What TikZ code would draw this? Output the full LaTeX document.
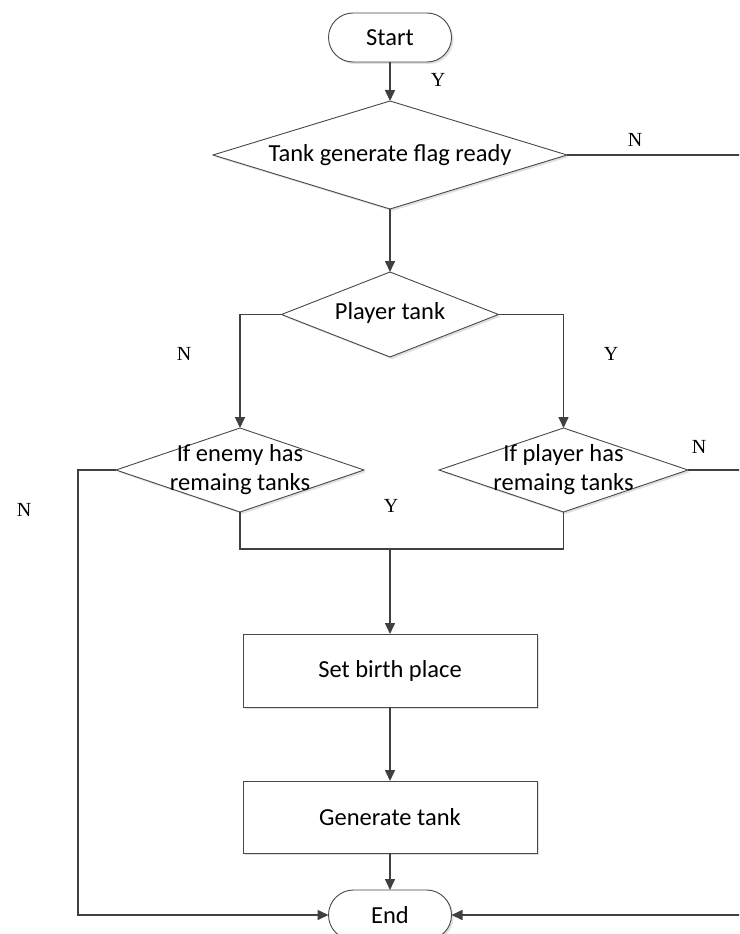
\documentclass[tikz,border=0pt]{standalone}
\usepackage{fontspec}
\setmainfont{Carlito}
\newfontfamily\labelfont{Liberation Serif}
\usetikzlibrary{shapes.geometric,shapes.misc,arrows.meta,shadows}

\begin{document}
\begin{tikzpicture}[x=1pt,y=-1pt,
  every node/.style={inner sep=0pt, outer sep=0pt},
  shapeline/.style={draw=black!72, line width=0.9pt, fill=white},
  softshadow/.style={drop shadow={shadow xshift=2pt, shadow yshift=-2pt, fill=black, opacity=0.12}},
  mainfont/.style={font=\fontsize{24.5}{29}\selectfont},
  termnode/.style={rounded rectangle, shapeline, softshadow, mainfont,
                   minimum width=123pt, minimum height=49pt},
  procnode/.style={rectangle, shapeline, softshadow, mainfont,
                   minimum width=294pt, minimum height=73pt},
  decnode/.style={diamond, shapeline, softshadow},
  dectext/.style={mainfont, align=center},
  flow/.style={draw=black!75, line width=1.6pt, -{Triangle[length=11pt,width=10pt]}},
  wire/.style={draw=black!75, line width=1.6pt},
  yn/.style={font=\labelfont\fontsize{20}{22}\selectfont}
]
\useasboundingbox (0,0) rectangle (739,934);
\clip (0,0) rectangle (739,934);

% terminals, decisions and process boxes
\node[termnode] (start) at (390,37.5) {Start};

\node[decnode, minimum width=354pt, minimum height=108pt] (flag) at (390,155) {};
\node[dectext] (flagtext) at (390,155) {Tank generate flag ready};

\node[decnode, minimum width=217pt, minimum height=85pt] (player) at (390,314.5) {};
\node[dectext] (playertext) at (390,313) {Player tank};

\node[decnode, minimum width=248pt, minimum height=84pt] (enemyleft) at (240,470) {};
\node[dectext] (enemytext) at (240,470) {If enemy has\\remaing tanks};

\node[decnode, minimum width=249pt, minimum height=84pt] (playerleft) at (563.5,470) {};
\node[dectext] (playerlefttext) at (563.5,470) {If player has\\remaing tanks};

\node[procnode] (birth) at (390,670.5) {Set birth place};
\node[procnode, minimum height=72pt] (gen) at (390,817) {Generate tank};
\node[termnode, minimum height=50pt] (end) at (390,915) {End};

% routing points
\coordinate (rtop) at (742,155);
\coordinate (rmid) at (742,470);
\coordinate (rbot) at (742,915);
\coordinate (ltop) at (78,470);
\coordinate (lbot) at (78,915);
\coordinate (merge) at (390,549);

% connectors
\draw[flow] (start) -- (flag);
\draw[flow] (flag) -- (player);
\draw[flow] (player.west) -| (enemyleft.north);
\draw[flow] (player.east) -| (playerleft.north);
\draw[wire] (enemyleft.south) |- (merge);
\draw[wire] (playerleft.south) |- (merge);
\draw[flow] (merge) -- (birth);
\draw[flow] (birth) -- (gen);
\draw[flow] (gen) -- (end);
\draw[flow] (enemyleft.west) -- (ltop) -- (lbot) -- (end.west);
\draw[wire] (playerleft.east) -- (rmid);
\draw[flow] (flag.east) -- (rtop) -- (rbot) -- (end.east);

% branch labels
\node[yn] (y1) at (438,80) {Y};
\node[yn] (n1) at (635,140) {N};
\node[yn] (n2) at (184,354) {N};
\node[yn] (y2) at (611,354) {Y};
\node[yn] (n3) at (699,447) {N};
\node[yn] (y3) at (391,506) {Y};
\node[yn] (n4) at (24,510) {N};
\end{tikzpicture}
\end{document}
